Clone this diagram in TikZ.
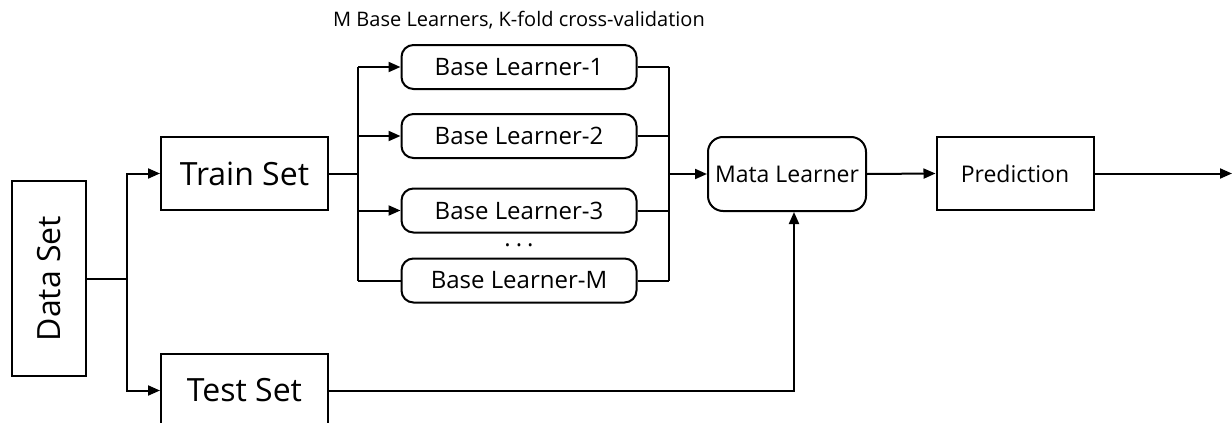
\documentclass[tikz,border=0pt]{standalone}
\usepackage{fontspec}
\setmainfont{Open Sans}
\usetikzlibrary{arrows.meta,calc}
\begin{document}
\begin{tikzpicture}[x=1pt,y=-1pt,
  line width=2pt,
  arr/.style={-{Triangle[length=12pt,width=10pt]}},
  sqbox/.style={draw,rectangle,inner sep=0pt,minimum width=167pt,minimum height=73pt,font=\fontsize{32}{36}\selectfont},
  blbox/.style={draw,rectangle,rounded corners=12pt,inner sep=0pt,minimum width=235pt,minimum height=44pt,font=\fontsize{24}{28}\selectfont},
  midbox/.style={draw,rectangle,inner sep=0pt,minimum width=157pt,minimum height=73pt,font=\fontsize{23}{27}\selectfont}
]
\useasboundingbox (0,0) rectangle (1232,423);
\node[draw,rectangle,inner sep=0pt,minimum width=74pt,minimum height=195pt] (data) at (49,278.5) {};
\node[rotate=90,font=\fontsize{32}{36}\selectfont] (datatext) at (data.center) {Data Set};
\node[sqbox] (train) at (244.5,173.5) {Train Set};
\node[sqbox] (test) at (244.5,390.5) {Test Set};
\node[font=\fontsize{20}{24}\selectfont] (title) at (519,20) {M Base Learners, K-fold cross-validation};
\node[blbox] (bl1) at (519,67) {Base Learner-1};
\node[blbox] (bl2) at (519,136) {Base Learner-2};
\node[blbox] (bl3) at (519,210.5) {Base Learner-3};
\node[blbox] (blM) at (519,280.5) {Base Learner-M};
\node[font=\fontsize{24}{28}\selectfont,inner sep=0pt] (dots) at (519,245) {.\hspace{5pt}.\hspace{5pt}.};
\node[midbox,rounded corners=15pt,minimum width=158pt,minimum height=74pt] (mata) at (787,174) {Mata Learner};
\node[midbox] (pred) at (1015,173.5) {Prediction};
\coordinate (jd) at (126.7,278.5);
\coordinate (jl) at (358,173.5);
\coordinate (jr) at (669,174);
\coordinate (out) at (1232,173.5);
% data -> train/test
\draw (data.east) -- (jd);
\draw[arr] (jd) |- (train.west);
\draw[arr] (jd) |- (test.west);
% train -> base learners
\draw (train.east) -- (jl);
\draw (jl |- bl1) -- (jl |- blM);
\draw[arr] (jl |- bl1) -- (bl1.west);
\draw[arr] (jl |- bl2) -- (bl2.west);
\draw[arr] (jl |- bl3) -- (bl3.west);
\draw (jl |- blM) -- (blM.west);
% base learners -> mata
\draw (bl1.east) -- (jr |- bl1);
\draw (bl2.east) -- (jr |- bl2);
\draw (bl3.east) -- (jr |- bl3);
\draw (blM.east) -- (jr |- blM);
\draw (jr |- bl1) -- (jr |- blM);
\draw[arr] (jr) -- (mata.west);
% test -> mata
\draw[arr] (test.east) -| ([xshift=7pt]mata.south);
% mata -> pred -> out
\draw[arr] (mata.east) -- (pred.west);
\draw[arr] (pred.east) -- (out);
\end{tikzpicture}
\end{document}
